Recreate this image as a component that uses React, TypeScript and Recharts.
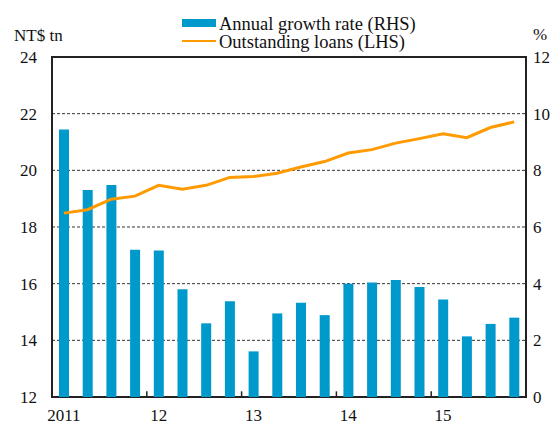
import React from 'react';
import { ComposedChart, Bar, Line, XAxis, YAxis, CartesianGrid, Legend, ReferenceArea, ReferenceLine } from 'recharts';

// quarterly, 2011 Q1 .. 2015 Q4
const quarters = [
  '2011Q1', '2011Q2', '2011Q3', '2011Q4',
  '2012Q1', '2012Q2', '2012Q3', '2012Q4',
  '2013Q1', '2013Q2', '2013Q3', '2013Q4',
  '2014Q1', '2014Q2', '2014Q3', '2014Q4',
  '2015Q1', '2015Q2', '2015Q3', '2015Q4',
];
const growthRate = [9.44, 7.31, 7.48, 5.2, 5.17, 3.8, 2.6, 3.38, 1.61, 2.95, 3.33, 2.89, 4.0, 4.04, 4.13, 3.88, 3.44, 2.14, 2.58, 2.8];
const outstandingLoans = [18.49, 18.61, 18.98, 19.09, 19.47, 19.33, 19.47, 19.75, 19.78, 19.9, 20.12, 20.31, 20.61, 20.73, 20.96, 21.12, 21.29, 21.15, 21.51, 21.71];

const yearLabels = ['2011', '12', '13', '14', '15'];
const yearBoundaries = [4, 8, 12, 16];
const leftTicks = [12, 14, 16, 18, 20, 22, 24];
const rightTicks = [0, 2, 4, 6, 8, 10, 12];

const data = quarters.map((q, i) => ({
  q,
  x: i + 0.5,
  growth: growthRate[i],
  loans: outstandingLoans[i],
}));
const labelTicks = yearLabels.map((_, i) => i * 4 + 0.5);

const FONT = '"Liberation Serif", "Times New Roman", serif';
const BLUE = '#0099CC';
const ORANGE = '#FF9A00';

const LegendBox = () => (
  <div style={{ position: 'relative', width: 556, height: 56, fontFamily: FONT, fontSize: 17, color: '#111', lineHeight: '17px' }}>
    <span style={{ position: 'absolute', left: 14, top: 27, whiteSpace: 'nowrap' }}>NT$ tn</span>
    <span style={{ position: 'absolute', left: 533, top: 26 }}>%</span>
    <div style={{ position: 'absolute', left: 182, top: 19, width: 34, height: 8, background: BLUE }} />
    <span style={{ position: 'absolute', left: 219, top: 16, fontSize: 18.5, whiteSpace: 'nowrap' }}>Annual growth rate (RHS)</span>
    <div style={{ position: 'absolute', left: 182, top: 39.5, width: 34, height: 2.5, background: ORANGE }} />
    <span style={{ position: 'absolute', left: 219, top: 34, fontSize: 18.5, whiteSpace: 'nowrap' }}>Outstanding loans (LHS)</span>
  </div>
);

export default function App() {
  return (
    <div style={{ position: 'absolute', left: 0, top: 0, background: '#fff' }}>
      <ComposedChart width={556} height={422} data={data} margin={{ top: 57, right: 0, left: 0, bottom: 0 }}>
        <CartesianGrid yAxisId="left" vertical={false} stroke="#333" strokeDasharray="3 2" horizontalValues={[14, 16, 18, 20, 22]} />
        <XAxis
          type="number"
          dataKey="x"
          domain={[0, 20]}
          ticks={labelTicks}
          tickFormatter={(v: number) => yearLabels[Math.floor(v / 4)]}
          axisLine={false}
          tickLine={false}
          tickSize={0}
          tickMargin={12}
          height={25}
          tick={{ fill: '#111', fontSize: 17, fontFamily: FONT }}
          interval={0}
        />
        <YAxis
          yAxisId="left"
          domain={[12, 24]}
          ticks={leftTicks}
          width={52}
          axisLine={false}
          tickLine={false}
          tickSize={0}
          tickMargin={15}
          tick={{ fill: '#111', fontSize: 17, fontFamily: FONT }}
        />
        <YAxis
          yAxisId="right"
          orientation="right"
          domain={[0, 12]}
          ticks={rightTicks}
          width={30}
          axisLine={false}
          tickLine={false}
          tickSize={0}
          tickMargin={7}
          tick={{ fill: '#111', fontSize: 17, fontFamily: FONT, textAnchor: 'start' }}
        />
        <Legend
          layout="horizontal"
          verticalAlign="middle"
          align="center"
          wrapperStyle={{ top: 0, left: 0, width: 556 }}
          content={() => <LegendBox />}
        />
        <Bar yAxisId="right" dataKey="growth" fill={BLUE} barSize={10} isAnimationActive={false} />
        <Line yAxisId="left" dataKey="loans" stroke={ORANGE} strokeWidth={3} dot={false} type="linear" isAnimationActive={false} />
        <ReferenceArea yAxisId="left" x1={0} x2={20} y1={12} y2={24} fill="none" stroke="#222" strokeWidth={2} ifOverflow="visible" />
        {yearBoundaries.map((b) => (
          <ReferenceLine
            key={b}
            yAxisId="left"
            segment={[{ x: b, y: 12 }, { x: b, y: 12.2 }]}
            stroke="#222"
            strokeWidth={1.5}
            ifOverflow="visible"
          />
        ))}
      </ComposedChart>
    </div>
  );
}
